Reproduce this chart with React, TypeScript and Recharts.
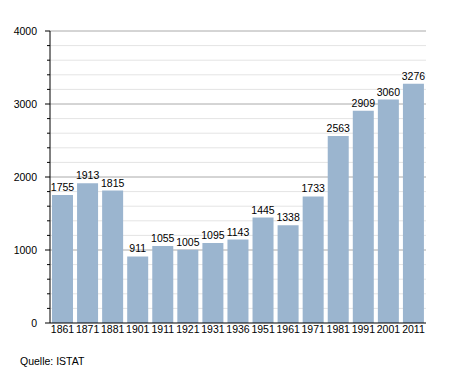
import React from 'react';
import { BarChart, Bar, XAxis, YAxis, CartesianGrid, LabelList } from 'recharts';

const years = ['1861', '1871', '1881', '1901', '1911', '1921', '1931', '1936', '1951', '1961', '1971', '1981', '1991', '2001', '2011'];
const population = [1755, 1913, 1815, 911, 1055, 1005, 1095, 1143, 1445, 1338, 1733, 2563, 2909, 3060, 3276];
const yTicks = [0, 200, 400, 600, 800, 1000, 1200, 1400, 1600, 1800, 2000, 2200, 2400, 2600, 2800, 3000, 3200, 3400, 3600, 3800, 4000];
const majorTicks = [0, 1000, 2000, 3000, 4000];
const minorTicks = yTicks.filter((t) => !majorTicks.includes(t));
const source = 'Quelle: ISTAT';

const data = years.map((y, i) => ({ year: y, value: population[i] }));
const FONT = '"Liberation Sans", Arial, sans-serif';

const YTick = (props: any) => {
  const { x, y, payload } = props;
  const major = majorTicks.includes(payload.value);
  return (
    <g>
      <line x1={x - (major ? 5 : 3)} x2={x} y1={y} y2={y} stroke="#000" strokeWidth={1} />
      {major && (
        <text x={x - 13} y={y} dy={4} textAnchor="end" fontSize={10.5} fontFamily={FONT} fill="#000">
          {payload.value}
        </text>
      )}
    </g>
  );
};

export default function App() {
  return (
    <div style={{ position: 'absolute', left: 0, top: 0, width: 455, height: 373, background: '#fff' }}>
      <BarChart width={455} height={373} data={data} margin={{ top: 31, right: 29, bottom: 30, left: 0 }} barCategoryGap={2}>
        <CartesianGrid vertical={false} horizontalValues={minorTicks} stroke="#e4e4e4" />
        <CartesianGrid vertical={false} horizontalValues={majorTicks.filter((t) => t > 0)} stroke="#aaaaaa" />
        <XAxis
          dataKey="year"
          tickLine={false}
          tickSize={0}
          axisLine={{ stroke: '#000', strokeWidth: 1 }}
          height={20}
          tick={{ fontSize: 10.5, fontFamily: FONT, fill: '#000' }}
          tickMargin={3}
          interval={0}
        />
        <YAxis
          width={50}
          domain={[0, 4000]}
          ticks={yTicks}
          interval={0}
          tickLine={false}
          tickSize={0}
          tickMargin={0}
          axisLine={{ stroke: '#000', strokeWidth: 1 }}
          tick={<YTick />}
        />
        <Bar dataKey="value" fill="#9bb5cf" isAnimationActive={false}>
          <LabelList dataKey="value" position="top" offset={4} fontSize={10.5} fontFamily={FONT} fill="#000" />
        </Bar>
      </BarChart>
      <div style={{ position: 'absolute', left: 20, top: 355, fontSize: 10.5, fontFamily: FONT, color: '#000' }}>{source}</div>
    </div>
  );
}
